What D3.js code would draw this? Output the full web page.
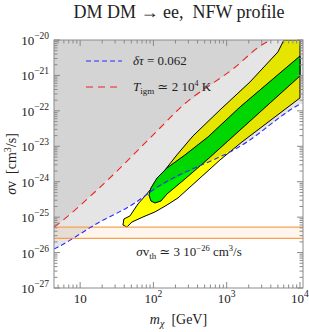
<!DOCTYPE html>
<html>
<head>
<meta charset="utf-8">
<script src="https://cdn.jsdelivr.net/npm/d3@7"></script>
<style>
	body { margin: 0; background: #fff; }
	svg text { font-family: "Liberation Serif", "DejaVu Serif", serif; fill: #222; white-space: pre; }
</style>
</head>
<body>
<div id="chart"></div>
<script>
// axis ranges (GeV, cm^3/s)
const massRange = [4.4, 1.1e4]
const sigmaRange = [1e-27, 1e-20]
const massTicks = [10, 100, 1000, 10000]
const sigmaExps = [-27, -26, -25, -24, -23, -22, -21, -20]

// delta tau = 0.062 bound (blue dashed)
const tauMass = [4.4, 5.0, 17.5, 56, 98.6, 1888, 8530, 10000]
const tauSigma = [1.26e-26, 1.44e-26, 6.84e-26, 2.51e-25, 5.83e-25, 1.32e-23, 1.29e-22, 1.56e-22]

// T_igm bound (red dashed)
const tigmMass = [4.4, 5.0, 15.9, 123, 230, 1216, 3540, 4140]
const tigmSigma = [5.27e-26, 6.41e-26, 5.13e-25, 3.28e-23, 1.2e-22, 1.52e-21, 8.8e-21, 1e-20]

// 2 sigma region (yellow)
const outerMass = [6040, 10000, 10000, 1614, 809, 216, 153, 105, 72, 51, 43.5, 38.4, 39.6, 47.9, 54.2, 61.5, 79, 108, 144, 209, 346, 809, 2075, 5000]
const outerSigma = [1e-20, 1e-20, 2.31e-22, 1.32e-23, 4.1e-24, 3.47e-25, 2.2e-25, 1.4e-25, 1.01e-25, 7.3e-26, 5.27e-26, 6.0e-26, 8.9e-26, 1.08e-25, 1.59e-25, 2.35e-25, 4.2e-25, 9.2e-25, 2.14e-24, 5.7e-24, 1.95e-23, 1.06e-22, 6.5e-22, 4.6e-21]

// 1 sigma region (green)
const innerMass = [10000, 5330, 1517, 555, 269, 153, 112, 92.5, 86.9, 92.5, 105, 127, 153, 269, 537, 10000]
const innerSigma = [3.53e-21, 1.17e-21, 1.28e-22, 1.83e-23, 5.68e-24, 2.44e-24, 1.27e-24, 6.65e-25, 4.22e-25, 2.86e-25, 2.51e-25, 2.86e-25, 4.5e-25, 1.19e-24, 4.1e-24, 9.64e-22]

// thermal cross section band
const thermalBand = [2.5e-26, 5.2e-26]

const W = 309, H = 332
const margin = { left: 54, right: 6, top: 40, bottom: 44 }

const svg = d3.select('#chart').append('svg')
	.attr('width', W)
	.attr('height', H)

const x = d3.scaleLog().domain(massRange).range([margin.left, W - margin.right])
const y = d3.scaleLog().domain(sigmaRange).range([H - margin.bottom, margin.top])

const [x0, x1] = x.range()
const [y0, y1] = y.range()

svg.append('defs').append('clipPath').attr('id', 'plotClip')
	.append('rect')
	.attr('x', x0).attr('y', y1)
	.attr('width', x1 - x0).attr('height', y0 - y1)

const plot = svg.append('g').attr('clip-path', 'url(#plotClip)')

const zipPts = (ms, ss) => ms.map((m, i) => [m, ss[i]])
const closed = d3.line().x(d => x(d[0])).y(d => y(d[1])).curve(d3.curveLinearClosed)
const open = d3.line().x(d => x(d[0])).y(d => y(d[1])).curve(d3.curveMonotoneX)

// contours
plot.append('path')
	.attr('d', closed(zipPts(outerMass, outerSigma)))
	.attr('fill', '#ffff00')
	.attr('stroke', '#000')
	.attr('stroke-width', 1)
	.attr('stroke-linejoin', 'round')

plot.append('path')
	.attr('d', closed(zipPts(innerMass, innerSigma)))
	.attr('fill', '#00f000')
	.attr('stroke', '#000')
	.attr('stroke-width', 1)
	.attr('stroke-linejoin', 'round')

// excluded regions, shaded on top
const tauPts = zipPts(tauMass, tauSigma)
const lightArea = tauPts.concat([[massRange[1] * 2, tauSigma[tauSigma.length - 1]], [massRange[1] * 2, sigmaRange[1] * 2], [massRange[0] / 2, sigmaRange[1] * 2], [massRange[0] / 2, tauSigma[0]]])
plot.append('path')
	.attr('d', closed(lightArea))
	.attr('fill', '#000')
	.attr('fill-opacity', 0.1)

const tigmPts = zipPts(tigmMass, tigmSigma)
const darkArea = tigmPts.concat([[tigmMass[tigmMass.length - 1], sigmaRange[1] * 2], [massRange[0] / 2, sigmaRange[1] * 2], [massRange[0] / 2, tigmSigma[0]]])
plot.append('path')
	.attr('d', closed(darkArea))
	.attr('fill', '#000')
	.attr('fill-opacity', 0.075)

// thermal band
plot.append('rect')
	.attr('x', x0).attr('width', x1 - x0)
	.attr('y', y(thermalBand[1]))
	.attr('height', y(thermalBand[0]) - y(thermalBand[1]))
	.attr('fill', '#f7a050')
	.attr('fill-opacity', 0.1)

plot.selectAll('.band-line')
	.data(thermalBand)
	.enter()
	.append('line')
	.attr('x1', x0).attr('x2', x1)
	.attr('y1', d => y(d)).attr('y2', d => y(d))
	.attr('stroke', '#f7a050')
	.attr('stroke-width', 1.3)

// bounds
plot.append('path')
	.attr('d', open(tauPts))
	.attr('fill', 'none')
	.attr('stroke', '#2a2aff')
	.attr('stroke-width', 1.1)
	.attr('stroke-dasharray', '5,3')

plot.append('path')
	.attr('d', open(tigmPts))
	.attr('fill', 'none')
	.attr('stroke', '#ee2020')
	.attr('stroke-width', 1.1)
	.attr('stroke-dasharray', '7,5')

// legend
const legend = svg.append('g')
legend.append('line')
	.attr('x1', 86).attr('x2', 122).attr('y1', 61).attr('y2', 61)
	.attr('stroke', '#2a2aff').attr('stroke-width', 1.1).attr('stroke-dasharray', '5,3')
legend.append('line')
	.attr('x1', 86).attr('x2', 122).attr('y1', 87).attr('y2', 87)
	.attr('stroke', '#ee2020').attr('stroke-width', 1.1).attr('stroke-dasharray', '7,5')

const t1 = legend.append('text').attr('x', 133).attr('y', 65).style('font-size', '13px')
t1.append('tspan').style('font-style', 'italic').text('δτ')
t1.append('tspan').text(' = 0.062')

const t2 = legend.append('text').attr('x', 133).attr('y', 91).style('font-size', '13px')
t2.append('tspan').style('font-style', 'italic').text('T')
t2.append('tspan').attr('dy', 3).style('font-size', '9px').text('igm')
t2.append('tspan').attr('dy', -3).text(' ≃ 2 10')
t2.append('tspan').attr('dy', -5).style('font-size', '8px').text('4')
t2.append('tspan').attr('dy', 5).text(' K')

// thermal label
const t3 = svg.append('text').attr('x', 189).attr('y', 256).attr('text-anchor', 'middle').style('font-size', '13px')
t3.append('tspan').style('font-style', 'italic').text('σ')
t3.append('tspan').text('v')
t3.append('tspan').attr('dy', 3).style('font-size', '9px').text('th')
t3.append('tspan').attr('dy', -3).text(' ≃ 3 10')
t3.append('tspan').attr('dy', -5).style('font-size', '8.5px').text('−26')
t3.append('tspan').attr('dy', 5).text(' cm')
t3.append('tspan').attr('dy', -5).style('font-size', '8.5px').text('3')
t3.append('tspan').attr('dy', 5).text('/s')

// frame and ticks
const frame = svg.append('g').attr('stroke', '#8a8a8a').attr('stroke-width', 1)
frame.append('rect')
	.attr('x', x0).attr('y', y1)
	.attr('width', x1 - x0).attr('height', y0 - y1)
	.attr('fill', 'none')

const minorOf = (lo, hi) => {
	const out = []
	for (let e = Math.floor(Math.log10(lo)); e <= Math.ceil(Math.log10(hi)); e++) {
		for (let k = 1; k < 10; k++) {
			const v = k * Math.pow(10, e)
			if (v >= lo && v <= hi) out.push({ v, major: k === 1 })
		}
	}
	return out
}

const xt = minorOf(massRange[0], massRange[1])
const yt = minorOf(sigmaRange[0], sigmaRange[1])

xt.forEach(t => {
	const len = t.major ? 6 : 3.5
	const px = x(t.v)
	frame.append('line').attr('x1', px).attr('x2', px).attr('y1', y0).attr('y2', y0 - len)
	frame.append('line').attr('x1', px).attr('x2', px).attr('y1', y1).attr('y2', y1 + len)
})
yt.forEach(t => {
	const len = t.major ? 6 : 3.5
	const py = y(t.v)
	frame.append('line').attr('x1', x0).attr('x2', x0 + len).attr('y1', py).attr('y2', py)
	frame.append('line').attr('x1', x1).attr('x2', x1 - len).attr('y1', py).attr('y2', py)
})

// tick labels
massTicks.forEach(m => {
	const e = Math.round(Math.log10(m))
	const lab = svg.append('text')
		.attr('x', x(m)).attr('y', y0 + 15)
		.attr('text-anchor', 'middle')
		.style('font-size', '13px')
	lab.append('tspan').text('10')
	if (e > 1) lab.append('tspan').attr('dy', -6).style('font-size', '9.5px').text(e)
})

sigmaExps.forEach(e => {
	const lab = svg.append('text')
		.attr('x', x0 - 5).attr('y', y(Math.pow(10, e)) + 5)
		.attr('text-anchor', 'end')
		.style('font-size', '13px')
	lab.append('tspan').text('10')
	lab.append('tspan').attr('dy', -6).style('font-size', '9.5px').text('−' + Math.abs(e))
})

// axis titles
const xl = svg.append('text')
	.attr('x', (x0 + x1) / 2).attr('y', H - 8)
	.attr('text-anchor', 'middle')
	.style('font-size', '14px')
xl.append('tspan').style('font-style', 'italic').text('m')
xl.append('tspan').attr('dy', 3).style('font-size', '10px').style('font-style', 'italic').text('χ')
xl.append('tspan').attr('dy', -3).text('  [GeV]')

const yl = svg.append('text')
	.attr('transform', `translate(16,${(y0 + y1) / 2}) rotate(-90)`)
	.attr('text-anchor', 'middle')
	.style('font-size', '14px')
yl.append('tspan').style('font-style', 'italic').text('σ')
yl.append('tspan').text('v  [cm')
yl.append('tspan').attr('dy', -5).style('font-size', '10px').text('3')
yl.append('tspan').attr('dy', 5).text('/s]')

svg.append('text')
	.attr('x', 179).attr('y', 18)
	.attr('text-anchor', 'middle')
	.style('font-size', '18px')
	.text('DM DM → ee,  NFW profile')
</script>
</body>
</html>
